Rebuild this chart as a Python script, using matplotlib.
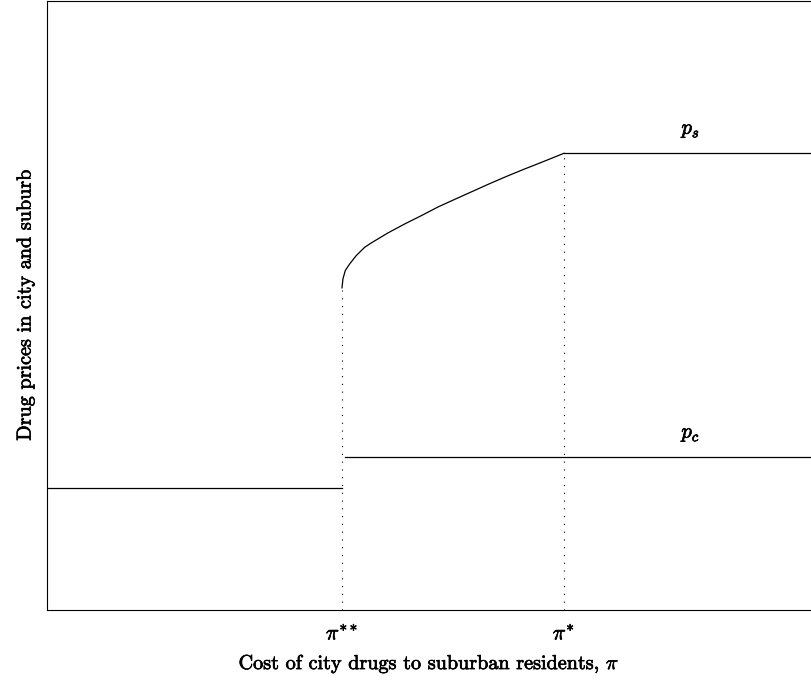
import matplotlib
matplotlib.use('Agg')
import matplotlib.pyplot as plt
import matplotlib.patheffects as pe

plt.rcParams['font.family'] = 'serif'
plt.rcParams['font.serif'] = ['cmr10']
plt.rcParams['mathtext.fontset'] = 'cm'
plt.rcParams['axes.unicode_minus'] = False

# Key thresholds on the cost axis
pi_2star = 0.3865
pi_star = 0.6767

# Low price before pi**, city price p_c after
p_low = 0.200
p_c = 0.251
p_s = 0.750

# Suburban price curve between pi** and pi*
curve_x = [0.3861, 0.3874, 0.3904, 0.3962, 0.4048, 0.4158, 0.4245, 0.4463, 0.4682,
           0.4899, 0.5118, 0.5360, 0.5580, 0.5798, 0.6017, 0.6234, 0.6453, 0.6671, 0.6767]
curve_y = [0.5290, 0.5438, 0.5574, 0.5683, 0.5820, 0.5956, 0.6028, 0.6192, 0.6339,
           0.6475, 0.6618, 0.6756, 0.6880, 0.7003, 0.7121, 0.7233, 0.7341, 0.7451, 0.7500]

tick_pos = [pi_2star, pi_star]
tick_labels = [r'$\pi^{**}$', r'$\pi^{*}$']

fig = plt.figure(figsize=(8.11, 6.81), dpi=100)
ax = fig.add_axes([47/811, 71/681, 764/811, 609/681])

# slightly heavier text, like the reference rendering
heavy = [pe.withStroke(linewidth=0.5, foreground='black')]

lw = 0.9
ax.plot([0, pi_2star], [p_low, p_low], color='black', lw=lw)
ax.plot([pi_2star + 0.003, 1], [p_c, p_c], color='black', lw=lw)
ax.plot(curve_x, curve_y, color='black', lw=lw)
ax.plot([pi_star, 1], [p_s, p_s], color='black', lw=lw)

# Dotted guides down to the axis
ax.plot([pi_2star, pi_2star], [0, curve_y[0]], color='black', lw=0.8, ls=(0, (1, 6)))
ax.plot([pi_star, pi_star], [0, p_s], color='black', lw=0.8, ls=(0, (1, 6)))

ax.text(0.843, p_s + 0.022, r'$p_s$', fontsize=15, ha='center', va='bottom', path_effects=heavy)
ax.text(0.843, p_c + 0.022, r'$p_c$', fontsize=15, ha='center', va='bottom', path_effects=heavy)

ax.set_xlim(0, 1)
ax.set_ylim(0, 1)
ax.set_xticks(tick_pos)
ax.set_xticklabels(tick_labels, fontsize=15.5)
for t in ax.get_xticklabels():
    t.set_path_effects(heavy)
ax.set_yticks([])
ax.tick_params(axis='x', length=0, pad=10)
ax.spines['right'].set_visible(False)

ax.set_xlabel(r'Cost of city drugs to suburban residents, $\pi$', fontsize=14.5, labelpad=7,
              path_effects=heavy)
ax.set_ylabel('Drug prices in city and suburb', fontsize=14.5, labelpad=9, path_effects=heavy)

fig.savefig('out.png', dpi=100)
